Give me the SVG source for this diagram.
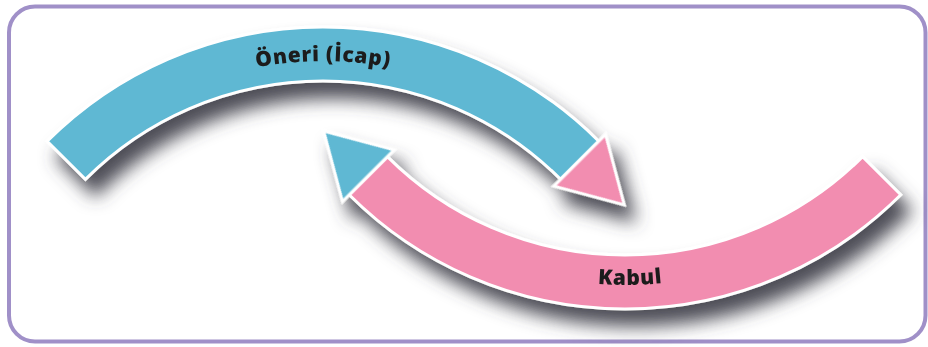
<svg xmlns="http://www.w3.org/2000/svg" xmlns:xlink="http://www.w3.org/1999/xlink" width="928" height="347" viewBox="0 0 928 347">
<style>
.frame{fill:#ffffff;stroke:#a090c8;stroke-width:4}
.blue{fill:#5eb8d3;stroke:#ffffff;stroke-width:3;stroke-linejoin:miter}
.pink{fill:#f28db0;stroke:#ffffff;stroke-width:3;stroke-linejoin:miter}
.lbl{font-family:"Open Sans","Liberation Sans",sans-serif;font-weight:800;font-size:21px;fill:#1c1c1c;letter-spacing:0.6px}
</style>
<defs>
<filter id="sh" x="-20%" y="-30%" width="150%" height="190%">
<feGaussianBlur in="SourceAlpha" stdDeviation="9" result="b"/>
<feOffset in="b" dx="10" dy="16" result="o"/>
<feFlood flood-color="#45454f" flood-opacity="0.95"/>
<feComposite in2="o" operator="in" result="s"/>
<feMerge><feMergeNode in="s"/><feMergeNode in="SourceGraphic"/></feMerge>
</filter>
<polygon id="head" points="0,-36.5 63,0 0,36.5"/>
<path id="tp1" d="M71.3,165.3 A356,356 0 0 1 574.7,165.3"/>
<path id="tp2" d="M366.2,177.8 A366,366 0 0 0 883.8,177.8"/>
</defs>
<rect class="frame" x="9" y="6.5" width="916.5" height="335" rx="26" ry="26"/>
<g id="connectors">
<g id="arrow-oneri" filter="url(#sh)">
<path class="blue" d="M47.2,141.2 A390,390 0 0 1 598.8,141.2 L560.6,179.4 A336,336 0 0 0 85.4,179.4 Z"/>
<use xlink:href="#head" class="pink" transform="translate(579.7,160.3) rotate(45)"/>
</g>
<g id="arrow-kabul" filter="url(#sh)">
<path class="pink" d="M900.8,194.8 A390,390 0 0 1 349.2,194.8 L387.4,156.6 A336,336 0 0 0 862.6,156.6 Z"/>
<use xlink:href="#head" class="blue" transform="translate(368.3,175.7) rotate(225)"/>
</g>
</g>
<g id="label-oneri">
<text class="lbl"><textPath xlink:href="#tp1" startOffset="50%" text-anchor="middle">Öneri (İcap)</textPath></text>
</g>
<g id="label-kabul">
<text class="lbl"><textPath xlink:href="#tp2" startOffset="50.9%" text-anchor="middle">Kabul</textPath></text>
</g>
</svg>
